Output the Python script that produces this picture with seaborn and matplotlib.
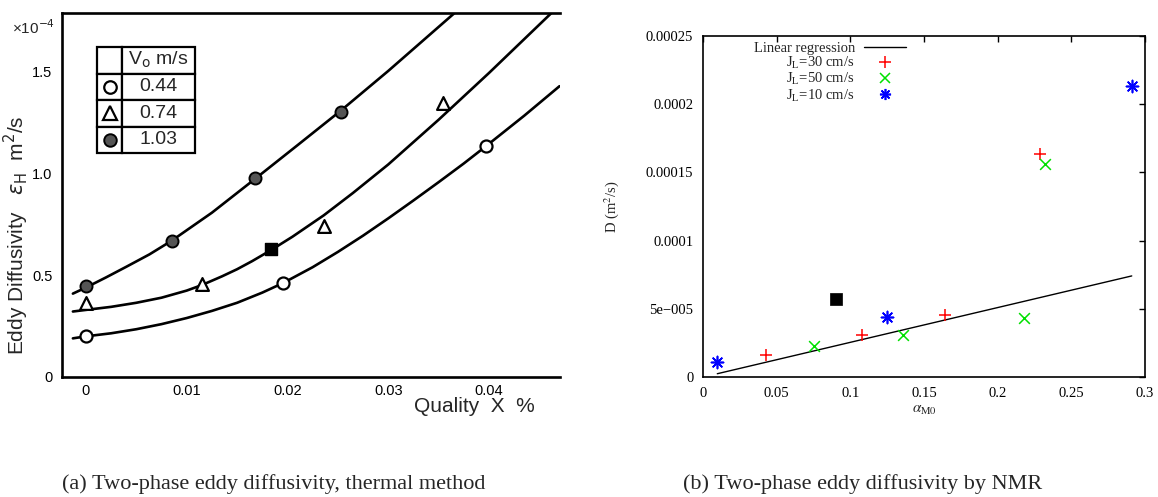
import matplotlib
matplotlib.use("Agg")
import matplotlib.pyplot as plt
import seaborn as sns
from matplotlib.lines import Line2D

# ---------------- Left panel data (thermal method) ----------------
x_044 = [0.0, 0.0196, 0.0397]
y_044 = [0.202, 0.463, 1.138]
x_074 = [0.0, 0.0115, 0.0236, 0.0354]
y_074 = [0.364, 0.458, 0.744, 1.348]
x_103 = [0.0, 0.0085, 0.0168, 0.0253]
y_103 = [0.447, 0.670, 0.979, 1.303]
x_sq_left = [0.0184]
y_sq_left = [0.628]

curve_044_x = [-0.0013, 0.0, 0.0025, 0.005, 0.0075, 0.01, 0.0125, 0.015, 0.0175, 0.0196,
               0.0225, 0.025, 0.0275, 0.03, 0.0325, 0.035, 0.0375, 0.0397, 0.0435, 0.047]
curve_044_y = [0.19, 0.20, 0.215, 0.235, 0.26, 0.29, 0.325, 0.365, 0.415, 0.463,
               0.54, 0.615, 0.695, 0.78, 0.868, 0.958, 1.05, 1.135, 1.285, 1.43]
curve_074_x = [-0.0013, 0.0, 0.0025, 0.005, 0.0075, 0.01, 0.0115, 0.0135, 0.015, 0.0165,
               0.0184, 0.0205, 0.0236, 0.0265, 0.03, 0.035, 0.04, 0.0462]
curve_074_y = [0.322, 0.33, 0.345, 0.365, 0.39, 0.425, 0.452, 0.495, 0.53, 0.57,
               0.625, 0.69, 0.795, 0.905, 1.045, 1.265, 1.495, 1.79]
curve_103_x = [-0.0013, 0.0, 0.002, 0.004, 0.0063, 0.0085, 0.0125, 0.0168, 0.021, 0.0253,
               0.03, 0.0367]
curve_103_y = [0.41, 0.44, 0.49, 0.542, 0.603, 0.67, 0.808, 0.975, 1.14, 1.31,
               1.505, 1.795]

v0_values = ["0.44", "0.74", "1.03"]
left_xticks = [0.0, 0.01, 0.02, 0.03, 0.04]
left_xticklabels = ["0", "0.01", "0.02", "0.03", "0.04"]
left_yticks = [0.0, 0.5, 1.0, 1.5]
left_yticklabels = ["0", "0.5", "1.0", "1.5"]

# ---------------- Right panel data (NMR) ----------------
jl30_x = [0.0425, 0.108, 0.164, 0.2285]
jl30_y = [1.61e-5, 3.05e-5, 4.53e-5, 1.633e-4]
jl50_x = [0.0756, 0.136, 0.218, 0.232]
jl50_y = [2.27e-5, 3.07e-5, 4.3e-5, 1.561e-4]
jl10_x = [0.0097, 0.125, 0.291]
jl10_y = [1.12e-5, 4.41e-5, 2.136e-4]
reg_x = [0.0097, 0.291]
reg_y = [2.4e-6, 7.41e-5]
sq_x = [0.0905]
sq_y = [5.75e-5]

right_xticks = [0, 0.05, 0.1, 0.15, 0.2, 0.25, 0.3]
right_xticklabels = ["0", "0.05", "0.1", "0.15", "0.2", "0.25", "0.3"]
right_yticks = [0, 5e-5, 1e-4, 1.5e-4, 2e-4, 2.5e-4]
right_yticklabels = ["0", "5e\u2212005", "0.0001", "0.00015", "0.0002", "0.00025"]
legend_labels = ["Linear regression", "J$_{\\rm L}$=30 cm/s", "J$_{\\rm L}$=50 cm/s", "J$_{\\rm L}$=10 cm/s"]

captions = ["(a) Two-phase eddy diffusivity, thermal method", "(b) Two-phase eddy diffusivity by NMR"]

sns.set_style("white")
plt.rcParams["font.family"] = ["Liberation Sans", "DejaVu Sans"]
plt.rcParams["mathtext.fontset"] = "stix"

W, H = 1158, 497
fig = plt.figure(figsize=(W / 100, H / 100), dpi=100)

def fx(px):
    return px / W

def fy(py):
    return 1 - py / H

# ================= Left panel =================
axL = fig.add_axes([fx(62), fy(377), fx(560) - fx(62), fy(13) - fy(377)])
for cx, cy in [(curve_044_x, curve_044_y), (curve_074_x, curve_074_y), (curve_103_x, curve_103_y)]:
    sns.lineplot(x=cx, y=cy, ax=axL, color="black", lw=1.9, sort=False, estimator=None)

sns.scatterplot(x=x_044, y=y_044, ax=axL, marker="o", s=75, color="white",
                edgecolor="black", linewidth=1.6, zorder=4)
sns.scatterplot(x=x_074, y=y_074, ax=axL, marker="^", s=85, color="white",
                edgecolor="black", linewidth=1.6, zorder=4)
sns.scatterplot(x=x_103, y=y_103, ax=axL, marker="o", s=75, color="#555555",
                edgecolor="black", linewidth=1.4, zorder=4)
sns.scatterplot(x=x_sq_left, y=y_sq_left, ax=axL, marker="s", s=75, color="black",
                edgecolor="black", linewidth=1, zorder=4)

axL.set_xlim(-0.00238, 0.04705)
axL.set_ylim(0, 1.79)
axL.set_xticks(left_xticks)
axL.set_xticklabels(left_xticklabels)
axL.set_yticks(left_yticks)
axL.set_yticklabels(left_yticklabels)
axL.tick_params(direction="in", length=5, width=1.6, labelsize=10.5, colors="black")
axL.tick_params(axis="y", pad=7)
axL.tick_params(axis="x", pad=5)
axL.spines["right"].set_visible(False)
for s in ["left", "bottom", "top"]:
    axL.spines[s].set_linewidth(1.9)
    axL.spines[s].set_color("black")
axL.set_xlabel("")
axL.set_ylabel("")

axL.text(-0.092, 0.39, "Eddy Diffusivity   $\\varepsilon_{\\mathrm{H}}$  m$^2$/s", rotation=90,
         ha="center", va="center", transform=axL.transAxes, fontsize=15,
         math_fontfamily="dejavusans")
axL.text(-0.058, 0.959, "\u00d710$^{-4}$", ha="center", va="center", transform=axL.transAxes,
         fontsize=11, math_fontfamily="dejavusans")
axL.text(0.829, -0.080, "Quality  X  %", ha="center", va="center", transform=axL.transAxes,
         fontsize=15)

# legend table
x0, x1 = (97 - 62) / 498, (195 - 62) / 498
y0, y1 = (377 - 153) / 364, (377 - 47) / 364
cell_text = [["", "V$_{\\mathrm{o}}$ m/s"]] + [["", v] for v in v0_values]
tbl = axL.table(cellText=cell_text, bbox=[x0, y0, x1 - x0, y1 - y0],
                colWidths=[0.255, 0.745], cellLoc="center")
tbl.auto_set_font_size(False)
tbl.set_fontsize(14)
tbl.set_zorder(5)
for cell in tbl.get_celld().values():
    cell.set_linewidth(1.6)
    cell.get_text().set_math_fontfamily("dejavusans")
mx = (109.5 - 62) / 498
row_h = (y1 - y0) / 4
marker_styles = [dict(marker="o", mfc="white", mec="black", ms=9, mew=1.6),
                 dict(marker="^", mfc="white", mec="black", ms=9.5, mew=1.6),
                 dict(marker="o", mfc="#555555", mec="black", ms=9, mew=1.4)]
for i, st in enumerate(marker_styles):
    axL.plot([mx], [y1 - row_h * (i + 1.5)], transform=axL.transAxes, ls="none",
             clip_on=False, zorder=6, **st)

# ================= Right panel =================
axR = fig.add_axes([fx(703), fy(377), fx(1145) - fx(703), fy(36) - fy(377)])
sns.lineplot(x=reg_x, y=reg_y, ax=axR, color="black", lw=1.0, sort=False, estimator=None)
sns.scatterplot(x=jl30_x, y=jl30_y, ax=axR, marker="+", s=70, color="#ff0000", linewidth=1.1, zorder=4)
sns.scatterplot(x=jl50_x, y=jl50_y, ax=axR, marker="x", s=60, color="#00e000", linewidth=1.1, zorder=4)
sns.scatterplot(x=jl10_x, y=jl10_y, ax=axR, marker=(8, 2, 0), s=75, color="#0000ff", linewidth=1.2, zorder=4)
sns.scatterplot(x=sq_x, y=sq_y, ax=axR, marker="s", s=70, color="black", edgecolor="black",
                linewidth=0.5, zorder=4)

axR.set_xlim(0, 0.3)
axR.set_ylim(0, 0.00025)
axR.set_xticks(right_xticks)
axR.set_xticklabels(right_xticklabels)
axR.set_yticks(right_yticks)
axR.set_yticklabels(right_yticklabels)
axR.tick_params(direction="in", length=4.5, width=1.0, top=True, right=True,
                labelsize=10.5, colors="black")
axR.tick_params(axis="y", pad=7)
axR.tick_params(axis="x", pad=7)
for lbl in axR.get_xticklabels() + axR.get_yticklabels():
    lbl.set_fontfamily("Liberation Serif")
for s in axR.spines.values():
    s.set_linewidth(1.2)
    s.set_color("black")
axR.set_xlabel("")
axR.set_ylabel("")
axR.text(-0.208, 0.5, "D (m$^2$/s)", rotation=90, ha="center", va="center",
         transform=axR.transAxes, fontsize=10.5, family="Liberation Serif")
axR.text(0.5, -0.097, "$\\alpha_{\\rm M0}$", ha="center", va="center",
         transform=axR.transAxes, fontsize=11)

handles = [Line2D([], [], color="black", lw=1.0),
           Line2D([], [], ls="none", marker="+", color="#ff0000", ms=8, mew=1.1),
           Line2D([], [], ls="none", marker="x", color="#00e000", ms=7.5, mew=1.1),
           Line2D([], [], ls="none", marker=(8, 2, 0), color="#0000ff", ms=8, mew=1.2)]
axR.legend(handles, legend_labels, loc="upper right", bbox_to_anchor=((906 - 703) / 442, (377 - 42) / 341),
           frameon=False, markerfirst=False, handlelength=2.9, handletextpad=0.6,
           labelspacing=0.0, borderpad=0, borderaxespad=0,
           prop={"family": "Liberation Serif", "size": 10.5})

# ================= Captions =================
fig.text(fx(62), fy(484), captions[0], ha="left", va="center", family="Liberation Serif", fontsize=16)
fig.text(fx(683), fy(484), captions[1], ha="left", va="center", family="Liberation Serif", fontsize=16)

fig.savefig("out.png", dpi=100)
